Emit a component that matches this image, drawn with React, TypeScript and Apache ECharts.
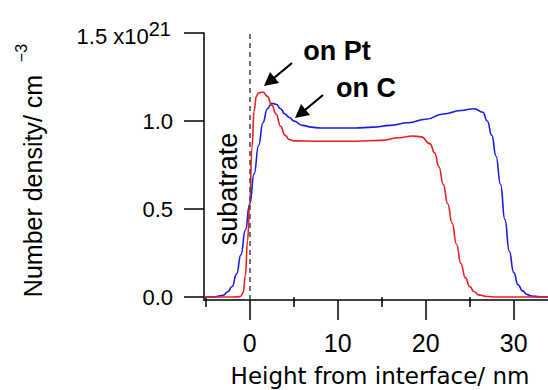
import React, { useEffect, useRef } from "react";
import * as echarts from "echarts";

const redX = [-5.2, -2, -1.2, -1, -0.75, -0.5, -0.25, 0, 0.25, 0.5, 0.75, 1, 1.5, 2, 2.5, 3, 3.5, 4, 4.5, 5, 8, 12, 15, 17, 18.5, 19.5, 20.5, 21, 21.5, 22, 22.5, 23, 23.5, 24, 24.5, 25, 25.5, 26, 27, 28, 33.9];
const redY = [0, 0, 0.002, 0.006, 0.025, 0.12, 0.32, 0.53, 0.85, 1.06, 1.14, 1.16, 1.165, 1.14, 1.09, 1.04, 0.97, 0.92, 0.895, 0.887, 0.885, 0.885, 0.89, 0.905, 0.915, 0.91, 0.87, 0.82, 0.74, 0.64, 0.53, 0.42, 0.3, 0.19, 0.11, 0.06, 0.03, 0.012, 0.003, 0, 0];

const blueX = [-5.2, -4, -3, -2.5, -2, -1.5, -1, -0.5, 0, 0.5, 1, 1.5, 2, 2.5, 3, 3.5, 4, 4.5, 5, 6, 7, 8, 10, 12, 14, 16, 18, 20, 22, 24, 25.5, 26.5, 27, 27.5, 28, 28.5, 29, 29.5, 30, 30.5, 31, 31.5, 32, 33, 33.9];
const blueY = [0, 0.001, 0.01, 0.03, 0.06, 0.13, 0.24, 0.38, 0.53, 0.7, 0.86, 0.99, 1.07, 1.1, 1.095, 1.07, 1.04, 1.02, 1.0, 0.975, 0.965, 0.96, 0.96, 0.96, 0.965, 0.975, 0.99, 1.01, 1.04, 1.06, 1.07, 1.05, 1.0, 0.92, 0.8, 0.64, 0.44, 0.26, 0.14, 0.07, 0.035, 0.015, 0.006, 0.001, 0];

const xMajorTicks = [0, 10, 20, 30];
const xMinorTicks = [-5, 5, 15, 25];
const yTicks = [0, 0.5, 1.0, 1.5];

const FONT = "Liberation Sans";
const XFONT = "DejaVu Sans";

export default function App() {
  const ref = useRef<HTMLDivElement>(null);
  useEffect(() => {
    if (!ref.current) return;
    const chart = echarts.init(ref.current, null, { renderer: "svg" });
    const xMin = -5.2;
    const xMax = 33.9;
    chart.setOption({
      animation: false,
      backgroundColor: "#ffffff",
      grid: { left: 204, right: 0, top: 33, bottom: 90, containLabel: false, outerBoundsMode: "none" },
      xAxis: [
        {
          type: "value",
          min: xMin,
          max: xMax,
          name: "Height from interface/ nm",
          nameLocation: "middle",
          nameGap: 64,
          nameTextStyle: { fontFamily: XFONT, fontSize: 23, color: "#000", padding: [0, 0, 0, 8] },
          axisLine: { show: true, onZero: false, lineStyle: { color: "#000", width: 1.5 } },
          axisTick: { show: true, customValues: xMajorTicks, length: 20, lineStyle: { color: "#000", width: 1.5 } },
          axisLabel: { customValues: xMajorTicks, margin: 30, fontFamily: FONT, fontSize: 25, color: "#000", formatter: (v: number) => String(v) },
          splitLine: { show: false },
        },
        {
          type: "value",
          position: "bottom",
          min: xMin,
          max: xMax,
          axisLine: { show: false },
          axisTick: { show: true, customValues: xMinorTicks, length: 10, lineStyle: { color: "#000", width: 1.5 } },
          axisLabel: { show: false },
          splitLine: { show: false },
        },
      ],
      yAxis: {
        type: "value",
        min: -0.017,
        max: 1.5,
        axisLine: { show: true, onZero: false, lineStyle: { color: "#000", width: 1.5 } },
        axisTick: { show: true, customValues: yTicks, length: 20, lineStyle: { color: "#000", width: 1.5 } },
        axisLabel: {
          customValues: yTicks,
          margin: 31,
          fontFamily: FONT,
          fontSize: 22,
          color: "#000",
          formatter: (v: number) => (Math.abs(v - 1.5) < 1e-9 ? "{b|1.5 x10}{s|21}" : v.toFixed(1)),
          rich: {
            b: { fontFamily: FONT, fontSize: 22, color: "#000", verticalAlign: "bottom", padding: [6, 0, 0, 0] },
            s: { fontFamily: FONT, fontSize: 20, color: "#000", verticalAlign: "top", padding: [0, 2, 0, 0] },
          },
        },
        splitLine: { show: false },
      },
      series: [
        {
          name: "on C",
          type: "line",
          data: blueX.map((x, i) => [x, blueY[i]]),
          smooth: 0.5,
          smoothMonotone: "x",
          showSymbol: false,
          lineStyle: { color: "#1a1aee", width: 1.6 },
          z: 3,
        },
        {
          name: "on Pt",
          type: "line",
          data: redX.map((x, i) => [x, redY[i]]),
          smooth: 0.5,
          smoothMonotone: "x",
          showSymbol: false,
          lineStyle: { color: "#f01e1e", width: 1.6 },
          z: 4,
          markLine: {
            silent: true,
            symbol: "none",
            label: { show: false },
            lineStyle: { color: "#444", type: [5, 4], width: 1.5 },
            data: [{ xAxis: 0 }],
          },
        },
      ],
      graphic: [
        {
          type: "text",
          x: 33,
          y: 186,
          rotation: Math.PI / 2,
          style: { text: "Number density/ cm", fontFamily: FONT, fontSize: 25, fill: "#000", align: "center", verticalAlign: "middle" },
        },
        {
          type: "text",
          x: 21,
          y: 53,
          rotation: Math.PI / 2,
          style: { text: "−3", fontFamily: FONT, fontSize: 16, fill: "#000", align: "center", verticalAlign: "middle" },
        },
        {
          type: "text",
          x: 228,
          y: 189,
          rotation: Math.PI / 2,
          style: { text: "subatrate", fontFamily: FONT, fontSize: 27, fill: "#000", align: "center", verticalAlign: "middle" },
        },
        {
          type: "text",
          x: 337,
          y: 51,
          style: { text: "on Pt", fontFamily: FONT, fontWeight: "bold", fontSize: 27, fill: "#000", align: "center", verticalAlign: "middle" },
        },
        {
          type: "text",
          x: 366,
          y: 88,
          style: { text: "on C", fontFamily: FONT, fontWeight: "bold", fontSize: 27, fill: "#000", align: "center", verticalAlign: "middle" },
        },
        { type: "line", shape: { x1: 292, y1: 63, x2: 274, y2: 78 }, style: { stroke: "#000", lineWidth: 2.2 } },
        { type: "polygon", shape: { points: [[264, 86], [270, 72], [279, 83]] }, style: { fill: "#000" } },
        { type: "line", shape: { x1: 323, y1: 95, x2: 305, y2: 110 }, style: { stroke: "#000", lineWidth: 2.2 } },
        { type: "polygon", shape: { points: [[295, 118], [301, 104], [310, 115]] }, style: { fill: "#000" } },
      ],
    });
    return () => chart.dispose();
  }, []);
  return <div ref={ref} style={{ position: "fixed", left: 0, top: 0, width: 548, height: 390 }} />;
}
